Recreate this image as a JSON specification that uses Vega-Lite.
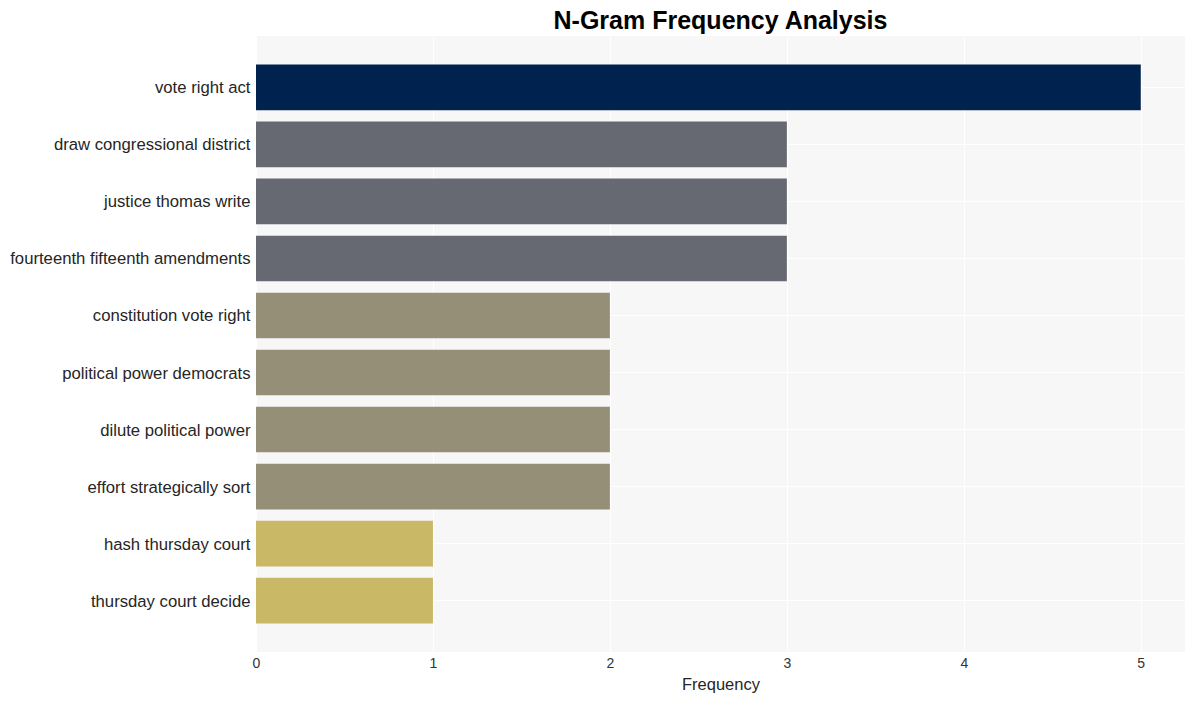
{
  "$schema": "https://vega.github.io/schema/vega-lite/v6.json",
  "width": 929,
  "height": 616,
  "autosize": {"type": "none"},
  "padding": {"left": 256, "top": 36, "right": 9, "bottom": 49},
  "background": "white",
  "title": {
    "text": "N-Gram Frequency Analysis",
    "font": "Liberation Sans",
    "fontSize": 25,
    "fontWeight": "bold",
    "color": "#000000",
    "anchor": "middle",
    "offset": 2
  },
  "config": {
    "view": {"fill": "#f7f7f7", "stroke": null},
    "font": "Liberation Sans"
  },
  "data": {
    "values": [
      {"ngram": "vote right act", "frequency": 5},
      {"ngram": "draw congressional district", "frequency": 3},
      {"ngram": "justice thomas write", "frequency": 3},
      {"ngram": "fourteenth fifteenth amendments", "frequency": 3},
      {"ngram": "constitution vote right", "frequency": 2},
      {"ngram": "political power democrats", "frequency": 2},
      {"ngram": "dilute political power", "frequency": 2},
      {"ngram": "effort strategically sort", "frequency": 2},
      {"ngram": "hash thursday court", "frequency": 1},
      {"ngram": "thursday court decide", "frequency": 1}
    ]
  },
  "mark": {"type": "bar"},
  "encoding": {
    "y": {
      "field": "ngram",
      "type": "nominal",
      "sort": null,
      "scale": {"paddingInner": 0.2, "paddingOuter": 0.5},
      "axis": {
        "title": null,
        "ticks": false,
        "domain": false,
        "labelPadding": 6,
        "labelFontSize": 16.7,
        "labelColor": "#262626",
        "labelLimit": 400,
        "labelOffset": 1,
        "grid": true,
        "gridColor": "#ffffff",
        "gridWidth": 1,
        "bandPosition": 0.5
      }
    },
    "x": {
      "field": "frequency",
      "type": "quantitative",
      "scale": {"domain": [0, 5.25], "nice": false},
      "axis": {
        "title": "Frequency",
        "titleFontSize": 16.5,
        "titleFontWeight": "normal",
        "titleColor": "#262626",
        "titlePadding": 6,
        "values": [0, 1, 2, 3, 4, 5],
        "format": "d",
        "ticks": false,
        "domain": false,
        "labelFlush": false,
        "labelPadding": 4,
        "labelFontSize": 14,
        "labelColor": "#333333",
        "grid": true,
        "gridColor": "#ffffff",
        "gridWidth": 1
      }
    },
    "color": {
      "field": "frequency",
      "type": "ordinal",
      "scale": {
        "domain": [1, 2, 3, 5],
        "range": ["#c9b866", "#958f77", "#666972", "#00224e"]
      },
      "legend": null
    }
  }
}
